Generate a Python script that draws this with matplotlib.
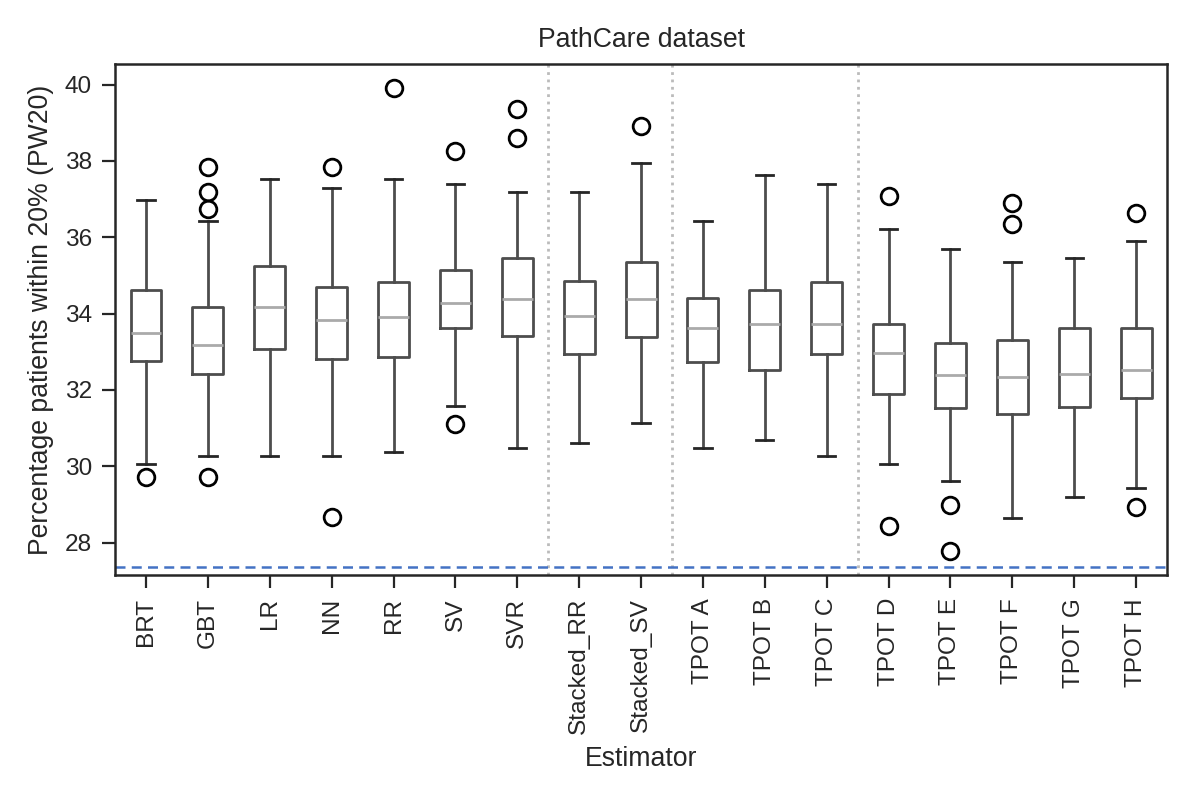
import matplotlib

matplotlib.use("Agg")
import matplotlib.pyplot as plt

# Оценки с картинки: квартили, усы и выбросы по каждому оценщику
estimators = ["BRT", "GBT", "LR", "NN", "RR", "SV", "SVR",
              "Stacked_RR", "Stacked_SV",
              "TPOT A", "TPOT B", "TPOT C",
              "TPOT D", "TPOT E", "TPOT F", "TPOT G", "TPOT H"]
whislo = [30.06, 30.27, 30.27, 30.27, 30.38, 31.58, 30.48,
          30.60, 31.14, 30.48, 30.70, 30.27,
          30.06, 29.62, 28.65, 29.20, 29.42]
q1 = [32.75, 32.43, 33.07, 32.81, 32.85, 33.63, 33.41,
      32.95, 33.38, 32.72, 32.53, 32.95,
      31.90, 31.53, 31.36, 31.56, 31.78]
med = [33.50, 33.19, 34.16, 33.84, 33.90, 34.27, 34.38,
       33.95, 34.38, 33.63, 33.73, 33.73,
       32.97, 32.39, 32.33, 32.43, 32.53]
q3 = [34.63, 34.16, 35.24, 34.70, 34.82, 35.14, 35.46,
      34.85, 35.35, 34.42, 34.61, 34.83,
      33.73, 33.22, 33.32, 33.63, 33.63]
whishi = [36.97, 36.43, 37.52, 37.30, 37.52, 37.40, 37.19,
          37.19, 37.94, 36.43, 37.63, 37.40,
          36.21, 35.68, 35.35, 35.46, 35.89]
fliers = [[29.73], [37.84, 37.18, 36.75, 29.73], [], [37.84, 28.66], [39.90],
          [38.27, 31.12], [39.35, 38.59],
          [], [38.92], [], [], [],
          [37.09, 28.44], [28.98, 27.79], [36.90, 36.34], [], [36.64, 28.94]]
baseline = 27.36          # синяя пунктирная линия
group_breaks = [7.5, 9.5, 12.5]

BOX = "#4d4d4d"
CAP = "#262626"
MED = "#aaaaaa"
TEXT = "#262626"

plt.rcParams.update({
    "font.family": ["Liberation Sans", "DejaVu Sans"],
    "font.size": 9.6,
    "axes.edgecolor": TEXT,
    "axes.linewidth": 0.9,
    "text.color": TEXT,
    "axes.labelcolor": TEXT,
    "xtick.color": TEXT,
    "ytick.color": TEXT,
    "xtick.labelsize": 8.8,
    "ytick.labelsize": 8.8,
    "xtick.major.size": 4.8,
    "ytick.major.size": 4.8,
    "xtick.major.width": 0.8,
    "ytick.major.width": 0.8,
})

stats = [
    {"label": n, "whislo": lo, "q1": a, "med": m, "q3": b, "whishi": hi, "fliers": f}
    for n, lo, a, m, b, hi, f in zip(estimators, whislo, q1, med, q3, whishi, fliers)
]

fig, ax = plt.subplots(figsize=(5.98, 3.99), dpi=200)
fig.subplots_adjust(left=0.0962, right=0.9758, top=0.9198, bottom=0.2794)

ax.bxp(stats, widths=0.5, capwidths=0.28,
       boxprops=dict(color=BOX, linewidth=1.0),
       whiskerprops=dict(color=BOX, linewidth=1.0),
       capprops=dict(color=CAP, linewidth=1.0),
       medianprops=dict(color=MED, linewidth=1.0),
       flierprops=dict(marker="o", markerfacecolor="none", markeredgecolor="black",
                       markersize=6, markeredgewidth=1.0))

for x in group_breaks:
    ax.axvline(x, color="#bbbbbb", linestyle=":", linewidth=1.0, zorder=0)
ax.axhline(baseline, color="#4472c4", linestyle=(0, (4, 2.5)), linewidth=0.9)

ax.set_xlim(0.5, len(estimators) + 0.5)
ax.set_ylim(27.15, 40.54)
ax.set_yticks(range(28, 41, 2))
ax.set_xticklabels(estimators, rotation=90)

ax.set_title("PathCare dataset", fontsize=9.6, pad=6)
ax.set_xlabel("Estimator", fontsize=9.6)
ax.set_ylabel("Percentage patients within 20% (PW20)", fontsize=9.6)

fig.savefig("out.png", dpi=200)
